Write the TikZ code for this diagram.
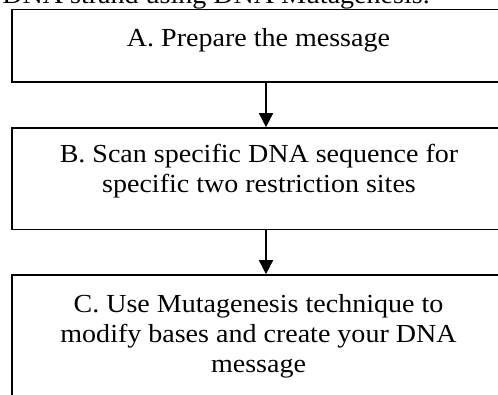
\documentclass[tikz,border=0pt]{standalone}
\usepackage{fontspec}
\setmainfont{Liberation Serif}[FakeStretch=1.078]
\usetikzlibrary{arrows.meta}
% centred lines whose baseline is the first line's baseline
\newcommand\stacklines[1]{\vtop{\halign{\hfil##\hfil\cr#1\crcr}}}
\begin{document}
\begin{tikzpicture}[x=1pt,y=1pt,
  stepbox/.style={draw, line width=1.6pt, minimum width=494pt, inner sep=0pt},
  steptext/.style={anchor=base, inner sep=0pt, font=\fontsize{26}{30}\selectfont},
  flow/.style={line width=1.5pt, -{Triangle[width=14pt,length=14pt]}}]
\useasboundingbox (0,0) rectangle (498,394);
\clip (0,0) rectangle (498,394);

% heading line above the flow chart
\node[steptext, anchor=base east] (title) at (430,390) {DNA strand using DNA Mutagenesis.};

% the three steps
\node[stepbox, minimum height=72.5pt]  (A) at (259,348.25) {};
\node[stepbox, minimum height=101.5pt] (B) at (259,215.25) {};
\node[stepbox, minimum height=129pt]   (C) at (259,54.5) {};

\node[steptext] (Atext) at (258.5,347) {A. Prepare the message};
\node[steptext] (Btext) at (259,231)
  {\stacklines{B. Scan specific DNA sequence for\cr specific two restriction sites}};
\node[steptext] (Ctext) at (258.5,82)
  {\stacklines{C. Use Mutagenesis technique to\cr modify bases and create your DNA\cr message}};

% connectors
\coordinate (ax) at (266,0);
\draw[flow] (A.south -| ax) -- (B.north -| ax);
\draw[flow] (B.south -| ax) -- (C.north -| ax);
\end{tikzpicture}
\end{document}
